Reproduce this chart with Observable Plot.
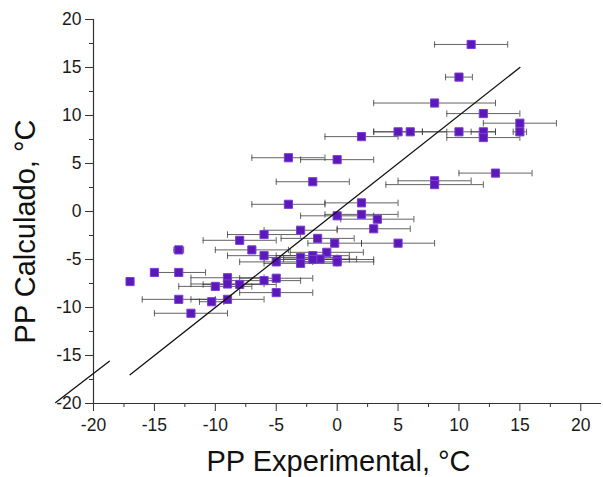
<!DOCTYPE html>
<html>
<head>
<meta charset="utf-8">
<script src="https://cdn.jsdelivr.net/npm/d3@7"></script>
<script src="https://cdn.jsdelivr.net/npm/@observablehq/plot@0.6"></script>
<style>
  html, body { margin: 0; padding: 0; background: #fff; }
</style>
</head>
<body>
<div id="chart"></div>
<script>
// Experimental PP (x), calculated PP (y), horizontal error half-width
const expX  = [11, 10, 8, 12, 15, 15, 12, 12, 10, 6, 5, 2, 0, -4, -2, 8, 8, 13, -4, 2, 0, 2, 3.3, 3, -3, -6, -1.6, -8, -0.2, 5, -7, -13, -0.85, -6, -2, -3, -1.4, -2, 0, -5, -3, 0, -15, -13, -17, -9, -5, -6, -9, -8, -10, -5, -13, -9, -10.3, -12];
const calcY = [17.4, 14.0, 11.3, 10.2, 9.2, 8.3, 8.3, 7.7, 8.3, 8.3, 8.3, 7.8, 5.4, 5.6, 3.1, 3.2, 2.8, 4.0, 0.75, 0.9, -0.45, -0.3, -0.8, -1.8, -1.95, -2.4, -2.8, -3.0, -3.3, -3.3, -4.0, -4.0, -4.25, -4.6, -4.6, -4.8, -4.95, -5.0, -5.0, -5.25, -5.4, -5.25, -6.35, -6.35, -7.3, -6.9, -6.95, -7.2, -7.55, -7.6, -7.8, -8.45, -9.15, -9.15, -9.4, -10.6];
const errX  = [3, 1.1, 5, 3, 3, 0.55, 1, 3, 3, 3, 2, 3, 3, 3, 3, 3, 4, 3, 3, 3, 3, 3, 3, 3, 3, 3, 3, 3, 2.2, 3, 3, 0.4, 3, 3, 3, 3, 3, 3, 3, 3, 3, 3, 0, 2.2, 0, 3, 3, 3, 3, 3, 3, 3, 3, 3, 1, 3];

// y = x reference line and the stray segment at lower left
const fitX = [-17, 15];
const fitY = [-17, 15];
const strayX = [-23.1, -18.7];
const strayY = [-19.9, -15.6];

// tick values
const majorTicks = [-20, -15, -10, -5, 0, 5, 10, 15, 20];
const minorTicks = [-17.5, -12.5, -7.5, -2.5, 2.5, 7.5, 12.5, 17.5];

const xLabel = "PP Experimental, °C";
const yLabel = "PP Calculado, °C";

const points = expX.map((x, i) => ({x, y: calcY[i], e: errX[i]}));
const bars = points.filter(d => d.e > 0);

const capSymbol = {
  draw(ctx, size) {
    const h = Math.sqrt(size / Math.PI);
    ctx.moveTo(0, -h);
    ctx.lineTo(0, h);
  }
};

const barColor = "#3c3c3c";
const font = "'Liberation Sans', Arial, sans-serif";
const fmt = d => String(d);

const chart = Plot.plot({
  width: 603,
  height: 477,
  marginLeft: 93,
  marginRight: 2,
  marginTop: 19,
  marginBottom: 74,
  style: {fontFamily: font, background: "#fff", color: "#1a1a1a"},
  x: {domain: [-20, 21.7]},
  y: {domain: [-20, 20]},
  marks: [
    // axes
    Plot.axisX({ticks: majorTicks, tickFormat: fmt, tickSize: 8, tickPadding: 7, fontSize: 17.5, label: null, stroke: "#333"}),
    Plot.axisX({ticks: minorTicks, tickSize: 4, text: null, label: null, stroke: "#333"}),
    Plot.axisY({ticks: majorTicks, tickFormat: fmt, tickSize: 8, tickPadding: 4, fontSize: 17.5, label: null, stroke: "#333"}),
    Plot.axisY({ticks: minorTicks, tickSize: 4, text: null, label: null, stroke: "#333"}),
    Plot.ruleX([-20], {stroke: "#333", strokeWidth: 1.2}),
    Plot.ruleY([-20], {stroke: "#333", strokeWidth: 1.2}),
    // error bars
    Plot.ruleY(bars, {y: "y", x1: d => d.x - d.e, x2: d => d.x + d.e, stroke: barColor, strokeWidth: 1, strokeOpacity: 0.8}),
    Plot.dot(bars, {x: d => d.x - d.e, y: "y", symbol: capSymbol, r: 3.2, stroke: barColor, fill: "none", strokeWidth: 1, strokeOpacity: 0.8}),
    Plot.dot(bars, {x: d => d.x + d.e, y: "y", symbol: capSymbol, r: 3.2, stroke: barColor, fill: "none", strokeWidth: 1, strokeOpacity: 0.8}),
    // points
    Plot.dot(points, {x: "x", y: "y", symbol: "square", r: 4.6, fill: "#5c18b8", stroke: "#7a3fd6", strokeWidth: 1}),
    // lines
    Plot.line(fitX.map((x, i) => ({x, y: fitY[i]})), {x: "x", y: "y", stroke: "#111", strokeWidth: 1.3}),
    Plot.line(strayX.map((x, i) => ({x, y: strayY[i]})), {x: "x", y: "y", stroke: "#111", strokeWidth: 1.3}),
    // axis titles
    Plot.text([xLabel], {frameAnchor: "bottom", text: d => d, textAnchor: "middle", dx: -9, dy: 58, lineAnchor: "middle", fontSize: 29, fill: "#111"}),
    Plot.text([yLabel], {frameAnchor: "left", text: d => d, textAnchor: "middle", rotate: -90, dx: -68, dy: 20, lineAnchor: "middle", fontSize: 29, fill: "#111"})
  ]
});

document.getElementById("chart").appendChild(chart);
</script>
</body>
</html>
